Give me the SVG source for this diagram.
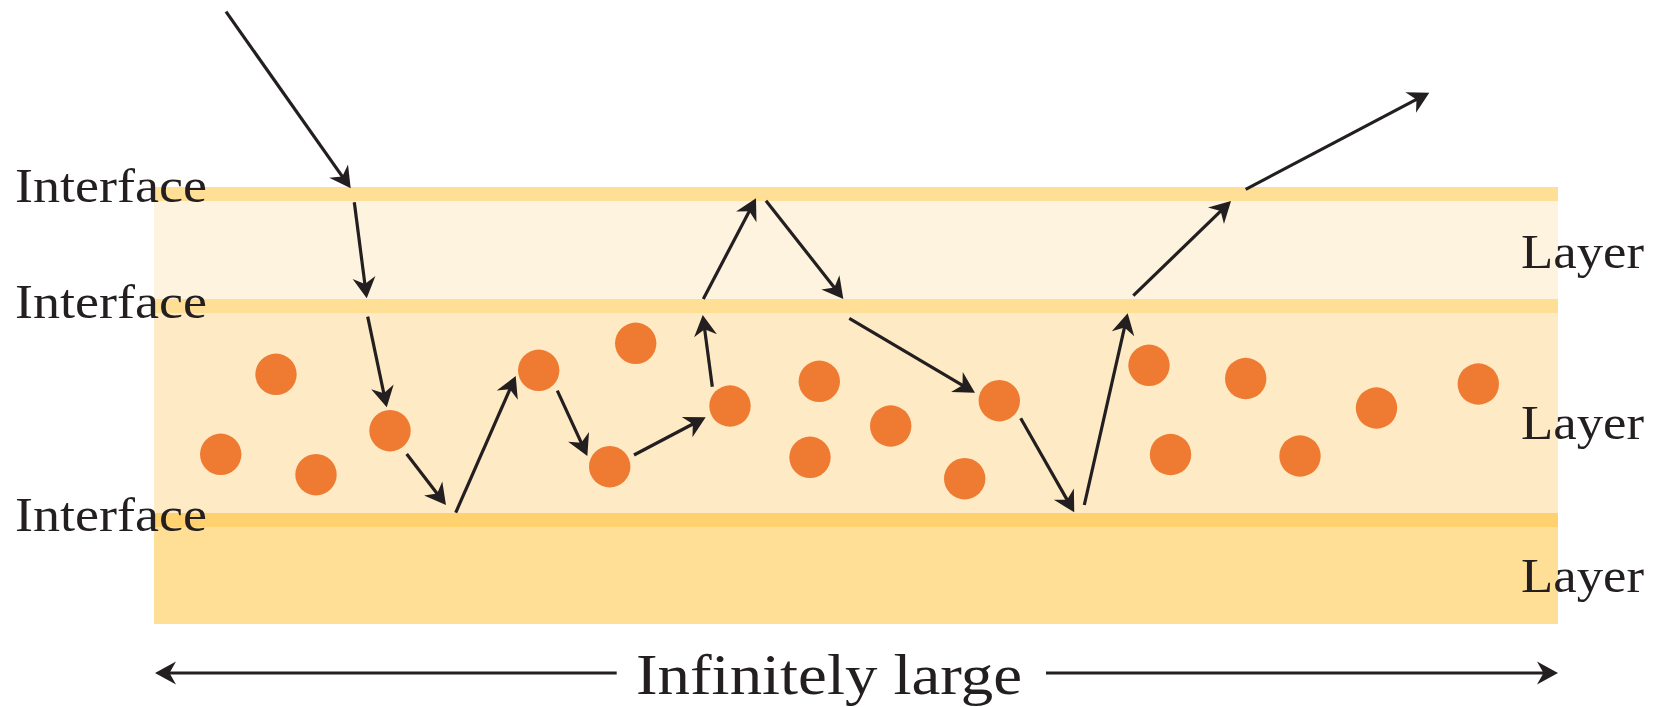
<svg xmlns="http://www.w3.org/2000/svg" width="1657" height="707" viewBox="0 0 1657 707">
  <style>
    .lbl { font-family: "Liberation Serif", "Times New Roman", serif; font-size: 48px; fill: #231F20; }
    .big { font-family: "Liberation Serif", "Times New Roman", serif; font-size: 57px; fill: #231F20; }
    .arr { stroke: #231F20; stroke-width: 3.2; fill: none; marker-end: url(#head); }
    .p { fill: #EF7B33; }
  </style>
  <defs>
    <marker id="head" markerUnits="userSpaceOnUse" markerWidth="40" markerHeight="40" viewBox="-20 -20 40 40" refX="0" refY="0" orient="auto" overflow="visible">
      <path d="M8,0 L-13,-11.5 L-6.5,0 L-13,11.5 Z" fill="#231F20"/>
    </marker>
  </defs>

  <g id="layers">
    <rect id="layer-top" x="154" y="201" width="1404" height="98" fill="#FEF3DF"/>
    <rect id="layer-middle" x="154" y="313" width="1404" height="200" fill="#FEEAC4"/>
    <rect id="layer-bottom" x="154" y="527" width="1404" height="97" fill="#FFDE96"/>
  </g>
  <g id="interfaces">
    <rect id="interface-1" x="154" y="187" width="1404" height="14" fill="#FFDE95"/>
    <rect id="interface-2" x="154" y="299" width="1404" height="14" fill="#FFDE95"/>
    <rect id="interface-3" x="154" y="513" width="1404" height="14" fill="#FFD26F"/>
  </g>

  <g id="particles">
    <circle class="p" cx="276" cy="374.3" r="20.7"/>
    <circle class="p" cx="220.7" cy="454.3" r="20.7"/>
    <circle class="p" cx="316" cy="474.7" r="20.7"/>
    <circle class="p" cx="390" cy="430.7" r="20.7"/>
    <circle class="p" cx="538.7" cy="370.3" r="20.7"/>
    <circle class="p" cx="635.7" cy="343.3" r="20.7"/>
    <circle class="p" cx="609.7" cy="466.7" r="20.7"/>
    <circle class="p" cx="730" cy="406" r="20.7"/>
    <circle class="p" cx="819.3" cy="381.3" r="20.7"/>
    <circle class="p" cx="810" cy="457.3" r="20.7"/>
    <circle class="p" cx="890.7" cy="426" r="20.7"/>
    <circle class="p" cx="964.7" cy="478.7" r="20.7"/>
    <circle class="p" cx="999.3" cy="400.7" r="20.7"/>
    <circle class="p" cx="1149" cy="365.3" r="20.7"/>
    <circle class="p" cx="1245.7" cy="378.5" r="20.7"/>
    <circle class="p" cx="1170.5" cy="454.5" r="20.7"/>
    <circle class="p" cx="1300" cy="456" r="20.7"/>
    <circle class="p" cx="1376.5" cy="408" r="20.7"/>
    <circle class="p" cx="1478.3" cy="384" r="20.7"/>
  </g>

  <g id="connectors">
    <line class="arr" x1="226" y1="11.7" x2="346.1" y2="181.8"/>
    <line class="arr" x1="354.3" y1="202.3" x2="365.7" y2="290.4"/>
    <line class="arr" x1="367.7" y1="316.7" x2="385.1" y2="399.5"/>
    <line class="arr" x1="406.7" y1="454" x2="441.1" y2="498.7"/>
    <line class="arr" x1="455.7" y1="512.7" x2="512.5" y2="383.3"/>
    <line class="arr" x1="557.3" y1="390.7" x2="584" y2="448.7"/>
    <line class="arr" x1="634" y1="455" x2="698.6" y2="421"/>
    <line class="arr" x1="712.3" y1="386.7" x2="703.8" y2="322.9"/>
    <line class="arr" x1="703.3" y1="299" x2="752.3" y2="205.4"/>
    <line class="arr" x1="766" y1="200.7" x2="838.4" y2="292.7"/>
    <line class="arr" x1="849.3" y1="318.3" x2="968.1" y2="388.6"/>
    <line class="arr" x1="1020.7" y1="418.3" x2="1070.3" y2="505.4"/>
    <line class="arr" x1="1084.3" y1="505" x2="1125.9" y2="321.1"/>
    <line class="arr" x1="1133.3" y1="295.7" x2="1225.3" y2="206.6"/>
    <line class="arr" x1="1245.7" y1="189.3" x2="1422.2" y2="96.4"/>
    <line class="arr" x1="616.7" y1="673" x2="163" y2="673"/>
    <line class="arr" x1="1046" y1="673" x2="1550" y2="673"/>
  </g>

  <g id="labels">
    <text class="lbl" x="15" y="202" textLength="192" lengthAdjust="spacingAndGlyphs">Interface</text>
    <text class="lbl" x="15" y="318" textLength="192" lengthAdjust="spacingAndGlyphs">Interface</text>
    <text class="lbl" x="15" y="531" textLength="192" lengthAdjust="spacingAndGlyphs">Interface</text>
    <text class="lbl" x="1521" y="268" textLength="123" lengthAdjust="spacingAndGlyphs">Layer</text>
    <text class="lbl" x="1521" y="439" textLength="123" lengthAdjust="spacingAndGlyphs">Layer</text>
    <text class="lbl" x="1521" y="592" textLength="123" lengthAdjust="spacingAndGlyphs">Layer</text>
    <text class="big" x="636" y="694" textLength="386" lengthAdjust="spacingAndGlyphs">Infinitely large</text>
  </g>
</svg>
